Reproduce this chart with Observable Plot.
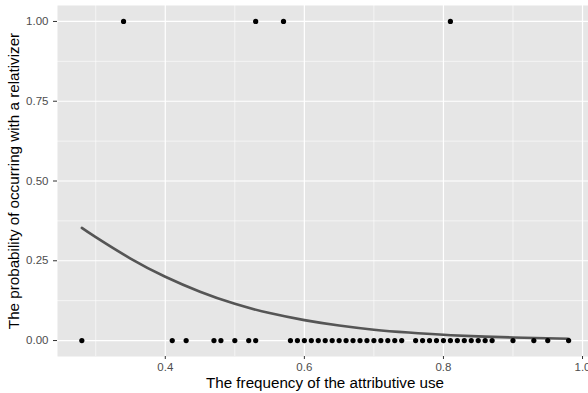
<!DOCTYPE html>
<html>
<head>
<meta charset="utf-8">
<script src="https://cdn.jsdelivr.net/npm/d3@7"></script>
<script src="https://cdn.jsdelivr.net/npm/@observablehq/plot@0.6"></script>
<style>
  html, body { margin: 0; padding: 0; background: white; overflow: hidden; }
  #chart svg { font-family: "Liberation Sans", Arial, sans-serif; display: block; }
</style>
</head>
<body>
<div id="chart"></div>
<script>
// Observed cases: relativizer present (1)
const onesX = [0.34, 0.53, 0.57, 0.81];
// Observed cases: relativizer absent (0)
const zerosX = [0.28, 0.41, 0.43, 0.47, 0.48, 0.50, 0.52, 0.53,
  0.58, 0.59, 0.60, 0.61, 0.62, 0.63, 0.64, 0.65, 0.66, 0.67, 0.68, 0.69, 0.70, 0.71, 0.72, 0.73, 0.74,
  0.76, 0.77, 0.78, 0.79, 0.80, 0.81, 0.82, 0.83, 0.84, 0.85, 0.86, 0.87,
  0.90, 0.93, 0.95, 0.98];
// Fitted curve
const curveX = [0.28, 0.30, 0.35, 0.40, 0.45, 0.50, 0.55, 0.60, 0.65, 0.70, 0.75, 0.80, 0.85, 0.90, 0.98];
const curveY = [0.353, 0.324, 0.257, 0.200, 0.153, 0.115, 0.086, 0.064, 0.047, 0.034, 0.025, 0.018, 0.013, 0.0096, 0.0057];
// Ticks
const xTicks = [0.4, 0.6, 0.8, 1.0];
const xMinor = [0.3, 0.5, 0.7, 0.9];
const yTicks = [0, 0.25, 0.5, 0.75, 1];
const yMinor = [0.125, 0.375, 0.625, 0.875];
const xTitle = "The frequency of the attributive use";
const yTitle = "The probability of occurring with a relativizer";

const points = [
  ...onesX.map(x => ({x, y: 1})),
  ...zerosX.map(x => ({x, y: 0}))
];
const curve = curveX.map((x, i) => ({x, y: curveY[i]}));

const chart = Plot.plot({
  width: 588,
  height: 393,
  marginLeft: 57,
  marginRight: 0,
  marginTop: 5,
  marginBottom: 37,
  style: {background: "white", fontFamily: "Liberation Sans, Arial, sans-serif"},
  x: {domain: [0.245, 1.0086]},
  y: {domain: [-0.05, 1.05]},
  marks: [
    Plot.frame({fill: "#E6E6E6", stroke: "none"}),
    Plot.ruleX(xMinor, {stroke: "white", strokeWidth: 0.6}),
    Plot.ruleY(yMinor, {stroke: "white", strokeWidth: 0.6}),
    Plot.ruleX(xTicks, {stroke: "white", strokeWidth: 1.2}),
    Plot.ruleY(yTicks, {stroke: "white", strokeWidth: 1.2}),
    Plot.axisX({ticks: xTicks, tickFormat: d3.format(".1f"), tickSize: 3, tickPadding: 3,
      fontSize: 11.5, color: "#4d4d4d", stroke: "#333", label: null}),
    Plot.axisY({ticks: yTicks, tickFormat: d3.format(".2f"), tickSize: 4, tickPadding: 5,
      fontSize: 11.5, color: "#4d4d4d", stroke: "#333", label: null}),
    Plot.line(curve, {x: "x", y: "y", curve: "natural", stroke: "#555555", strokeWidth: 2.6}),
    Plot.dot(points, {x: "x", y: "y", r: 2.6, fill: "black", stroke: "none"}),
    Plot.text([xTitle], {frameAnchor: "bottom", lineAnchor: "middle", textAnchor: "middle", dx: 2, dy: 27,
      fontSize: 15.2, fill: "black"}),
    Plot.text([yTitle], {frameAnchor: "left", lineAnchor: "middle", textAnchor: "middle", rotate: -90, dx: -43,
      fontSize: 15.2, fill: "black"})
  ]
});
document.getElementById("chart").appendChild(chart);
</script>
</body>
</html>
